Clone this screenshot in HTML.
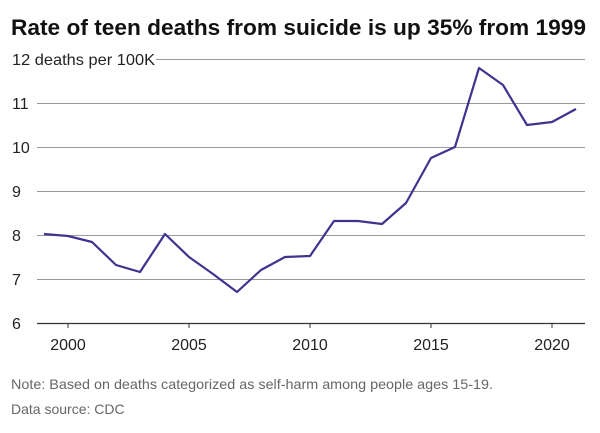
<!DOCTYPE html>
<html><head><meta charset="utf-8"><style>
body{margin:0;background:#fff;width:600px;height:428px;overflow:hidden;font-family:"Liberation Sans",sans-serif}
</style></head><body>
<svg width="600" height="428" xmlns="http://www.w3.org/2000/svg" font-family="Liberation Sans, sans-serif">
<text x="11" y="35" font-size="22" font-weight="bold" fill="#111" textLength="575" lengthAdjust="spacingAndGlyphs">Rate of teen deaths from suicide is up 35% from 1999</text>
<g stroke="#999" stroke-width="1">
<line x1="156" x2="585" y1="59.5" y2="59.5"/>
<line x1="37" x2="585" y1="103.5" y2="103.5"/>
<line x1="37" x2="585" y1="147.5" y2="147.5"/>
<line x1="37" x2="585" y1="191.5" y2="191.5"/>
<line x1="37" x2="585" y1="235.5" y2="235.5"/>
<line x1="37" x2="585" y1="279.5" y2="279.5"/>
</g>
<line x1="37" x2="585" y1="323.5" y2="323.5" stroke="#333" stroke-width="1.2"/>
<g font-size="16" fill="#222">
<text x="12" y="65" textLength="143" lengthAdjust="spacingAndGlyphs">12 deaths per 100K</text>
<text x="12" y="109">11</text>
<text x="12" y="153">10</text>
<text x="12" y="197">9</text>
<text x="12" y="241">8</text>
<text x="12" y="285">7</text>
<text x="12" y="329">6</text>
</g>
<g font-size="16" fill="#222" text-anchor="middle">
<text x="68" y="350">2000</text>
<text x="189" y="350">2005</text>
<text x="310" y="350">2010</text>
<text x="431" y="350">2015</text>
<text x="552" y="350">2020</text>
</g>
<g stroke="#333" stroke-width="1">
<line x1="68" x2="68" y1="323" y2="328"/><line x1="189" x2="189" y1="323" y2="328"/><line x1="310" x2="310" y1="323" y2="328"/><line x1="431" x2="431" y1="323" y2="328"/><line x1="552" x2="552" y1="323" y2="328"/>
</g>
<polyline fill="none" stroke="#3e3490" stroke-width="2.2" stroke-linejoin="round" points="
44,234 68,236 92,242 116,265 140,272 165,234 189,257 213,274 237,292 261,270 285,257 310,256 334,221 358,221 382,224 406,203 431,158 455,147 479,68 503,85 527,125 552,122 576,109"/>
<text x="11" y="389" font-size="14" fill="#666" textLength="482" lengthAdjust="spacingAndGlyphs">Note: Based on deaths categorized as self-harm among people ages 15-19.</text>
<text x="11" y="414" font-size="14" fill="#666">Data source: CDC</text>
</svg>
</body></html>
